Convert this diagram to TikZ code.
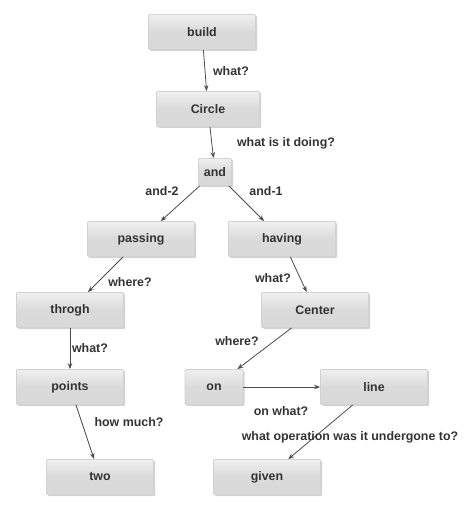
\documentclass[tikz,border=0pt]{standalone}
\usepackage{fontspec}
\setmainfont{Liberation Sans}
\usetikzlibrary{shadows,arrows.meta}
\tikzstyle{term}=[draw=gray!35, top color=gray!12, bottom color=gray!30, middle color=gray!29, rounded corners=1bp, minimum width=107bp, minimum height=35bp, inner sep=0pt, drop shadow={shadow xshift=1.5bp, shadow yshift=-1.5bp, opacity=0.35}, font=\fontsize{12.4bp}{14bp}\selectfont\bfseries, text=black!80]
\tikzstyle{ask}=[inner sep=0pt, font=\fontsize{12.4bp}{14bp}\selectfont\bfseries, text=black!80]

\begin{document}
\begin{tikzpicture}[x=1bp, y=-1bp, >={Stealth[length=6bp, width=4.5bp]}, line width=0.8bp]
\useasboundingbox (0,0) rectangle (474,511);
% Terms
    \node[term] (build) at (202,32) {build};
    \node[term, minimum width=103bp] (circle) at (208,109) {Circle};
    \node[term, minimum width=33bp, minimum height=27bp] (and) at (215,172) {and};
    \node[term] (passing) at (141,239) {passing};
    \node[term] (having) at (282,239) {having};
    \node[term] (throgh) at (70,310) {throgh};
    \node[term] (center) at (315,310) {Center};
    \node[term] (points) at (70,387) {points};
    \node[term, minimum width=58bp] (on) at (214,387) {on};
    \node[term] (line) at (374,387) {line};
    \node[term] (two) at (100,477) {two};
    \node[term] (given) at (267,477) {given};
% Links
    \draw[->, black!70] (build) -- (circle);
    \draw[->, black!70] (circle) -- (and);
    \draw[->, black!70] (and) -- (passing);
    \draw[->, black!70] (and) -- (having);
    \draw[->, black!70] (passing) -- (throgh);
    \draw[->, black!70] (throgh) -- (points);
    \draw[->, black!70] (points) -- (two);
    \draw[->, black!70] (having) -- (center);
    \draw[->, black!70] (center) -- (on);
    \draw[->, black!70] (on) -- (line);
    \draw[->, black!70] (line) -- (given);
% Questions
    \node[ask] (q1) at (231,71) {what?};
    \node[ask] (q2) at (286,143) {what is it doing?};
    \node[ask] (q3) at (162,191) {and-2};
    \node[ask] (q4) at (266,191) {and-1};
    \node[ask] (q5) at (130,282) {where?};
    \node[ask] (q6) at (90,348) {what?};
    \node[ask] (q7) at (129,422) {how much?};
    \node[ask] (q8) at (273,278) {what?};
    \node[ask] (q9) at (237,341) {where?};
    \node[ask] (q10) at (281,411) {on what?};
    \node[ask] (q11) at (350,437) {what operation was it undergone to?};
\end{tikzpicture}
\end{document}
